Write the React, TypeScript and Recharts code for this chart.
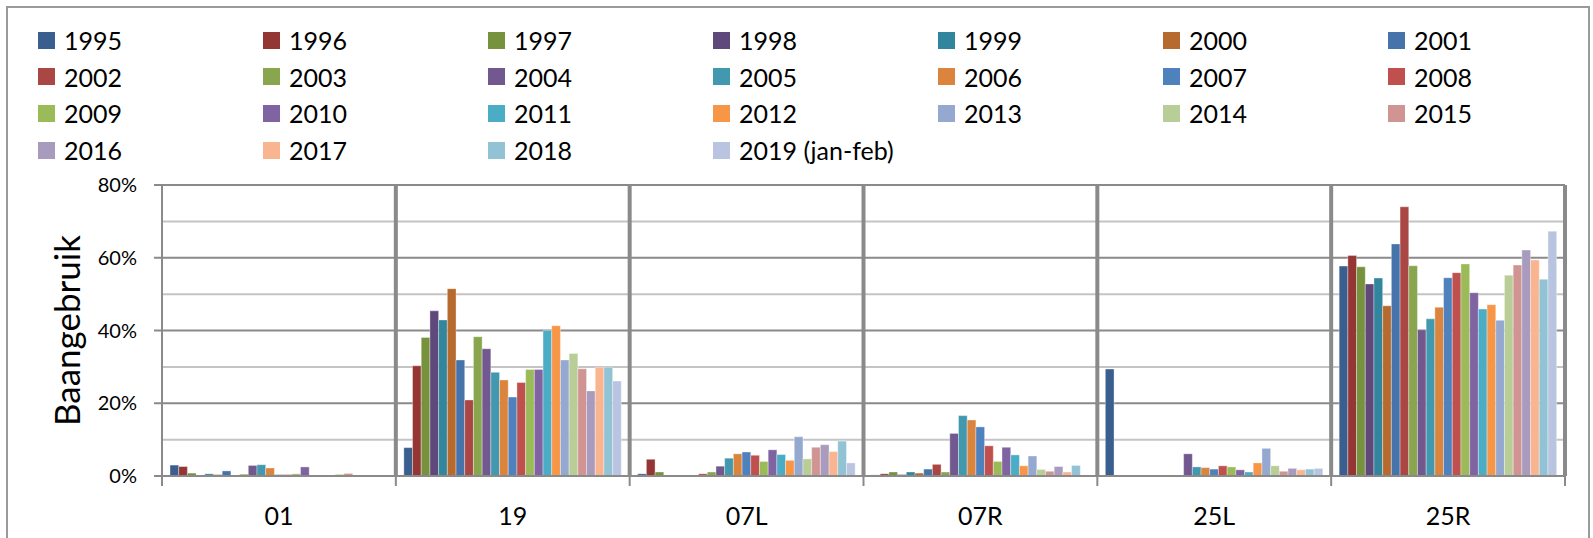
import React from 'react'
import { BarChart, Bar, XAxis, YAxis, CartesianGrid } from 'recharts'

const runways = ['01', '19', '07L', '07R', '25L', '25R']

const years = [
  '1995', '1996', '1997', '1998', '1999', '2000', '2001',
  '2002', '2003', '2004', '2005', '2006', '2007', '2008',
  '2009', '2010', '2011', '2012', '2013', '2014', '2015',
  '2016', '2017', '2018', '2019 (jan-feb)',
]

const colors = [
  '#3A5F8F', '#943634', '#76923C', '#5F497A', '#31859C', '#B76A2E', '#4674AA',
  '#AA4643', '#89A54E', '#71588F', '#4198AF', '#DB843D', '#4F81BD', '#C0504D',
  '#9BBB59', '#8064A2', '#4BACC6', '#F79646', '#95A9D0', '#B9CD96', '#D09493',
  '#A99BBD', '#F9B590', '#92C3D4', '#B9C5E0',
]

// runway use in %, one value per year (1995 .. 2019)
const use01 = [3.0, 2.6, 0.8, 0.2, 0.6, 0.4, 1.4, 0.2, 0.5, 2.9, 3.1, 2.2, 0.4, 0.4, 0.6, 2.5, 0, 0, 0.1, 0.5, 0.7, 0, 0, 0, 0]
const use19 = [7.8, 30.3, 38.1, 45.4, 42.9, 51.5, 31.9, 20.9, 38.3, 35.0, 28.5, 26.4, 21.7, 25.7, 29.3, 29.3, 40.0, 41.3, 31.9, 33.7, 29.5, 23.4, 29.9, 29.9, 26.1]
const use07L = [0.6, 4.6, 1.1, 0, 0, 0, 0, 0.6, 1.1, 2.7, 4.9, 6.1, 6.6, 5.7, 4.0, 7.2, 5.9, 4.3, 10.8, 4.7, 7.9, 8.6, 6.7, 9.6, 3.6]
const use07R = [0.3, 0.6, 1.1, 0.4, 1.1, 0.8, 1.9, 3.2, 1.1, 11.7, 16.6, 15.4, 13.5, 8.3, 4.0, 7.9, 5.8, 2.8, 5.5, 1.8, 1.3, 2.6, 1.1, 2.9, 0]
const use25L = [29.4, 0, 0, 0.2, 0, 0, 0, 0, 0, 6.1, 2.5, 2.3, 1.9, 2.8, 2.5, 1.7, 1.1, 3.6, 7.6, 2.8, 1.3, 2.1, 1.7, 1.9, 2.1]
const use25R = [57.7, 60.6, 57.5, 52.8, 54.4, 46.8, 63.8, 74.0, 57.8, 40.2, 43.2, 46.4, 54.5, 55.9, 58.3, 50.4, 45.9, 47.1, 42.8, 55.2, 58.0, 62.1, 59.4, 54.1, 67.3]

const yTicks = [0, 20, 40, 60, 80]
const majorLines = [20, 40, 60, 80]
const minorLines = [10, 30, 50, 70]

const tables = [use01, use19, use07L, use07R, use25L, use25R]

const data = runways.map((runway, ri) => {
  const row: Record<string, string | number> = { runway }
  years.forEach((_, yi) => {
    row['y' + yi] = tables[ri][yi]
  })
  return row
})

const font = 'Lato, "Liberation Sans", sans-serif'
const axisGray = '#8a8a8a'

function CategoryTick(props: any) {
  const { x, y, payload, index, visibleTicksCount } = props
  const half = payload.offset ?? 0
  return (
    <g>
      <line x1={x - half} x2={x - half} y1={y} y2={y + 10} stroke={axisGray} strokeWidth={2} />
      {index === visibleTicksCount - 1 && (
        <line x1={x + half} x2={x + half} y1={y} y2={y + 10} stroke={axisGray} strokeWidth={2} />
      )}
      <text x={x} y={y + 49} textAnchor="middle" fontSize={25} fill="#000" fontFamily={font}>
        {payload.value}
      </text>
    </g>
  )
}

function Legend() {
  return (
    <div style={{ position: 'absolute', left: 0, top: 0 }}>
      {years.map((year, i) => (
        <div
          key={year}
          style={{
            position: 'absolute',
            left: 38 + (i % 7) * 225,
            top: 28 + Math.floor(i / 7) * 36.7,
            display: 'flex',
            alignItems: 'center',
            height: 24,
            whiteSpace: 'nowrap',
          }}
        >
          <span style={{ width: 17, height: 17, background: colors[i], display: 'inline-block' }} />
          <span style={{ marginLeft: 9, fontSize: 25, fontFamily: font, color: '#000' }}>{year}</span>
        </div>
      ))}
    </div>
  )
}

export default function App() {
  return (
    <div style={{ position: 'relative', width: 1593, height: 538, background: '#fff', overflow: 'hidden' }}>
      <style>{'body { margin: 0; }'}</style>
      <div
        style={{
          position: 'absolute',
          left: 6,
          top: 6,
          width: 1584,
          height: 560,
          border: '2px solid #9a9a9a',
          boxSizing: 'border-box',
        }}
      />
      <Legend />
      <div style={{ position: 'absolute', left: 0, top: 0 }}>
        <BarChart
          width={1593}
          height={538}
          data={data}
          margin={{ top: 185, right: 28, left: 102, bottom: 22 }}
          barGap={0}
        >
          <CartesianGrid horizontalValues={minorLines} vertical={false} stroke="#c4c4c4" strokeWidth={2} />
          <CartesianGrid horizontalValues={majorLines} vertical={false} stroke={axisGray} strokeWidth={2} />
          <CartesianGrid
            horizontal={false}
            stroke={axisGray}
            strokeWidth={4}
            verticalCoordinatesGenerator={({ offset }: any) =>
              runways.map((_, i) => offset.left + ((i + 1) * offset.width) / runways.length)
            }
          />
          <XAxis
            dataKey="runway"
            height={40}
            tickLine={false}
            tickSize={0}
            tickMargin={0}
            axisLine={{ stroke: axisGray, strokeWidth: 2 }}
            tick={<CategoryTick />}
            interval={0}
          />
          <YAxis
            width={60}
            domain={[0, 80]}
            ticks={yTicks}
            tickFormatter={(v) => `${v}%`}
            tick={{ fontSize: 20, fill: '#000', fontFamily: font }}
            tickLine={{ stroke: axisGray, strokeWidth: 2 }}
            tickSize={8}
            tickMargin={17}
            axisLine={{ stroke: axisGray, strokeWidth: 2 }}
            label={{
              content: (p: any) => {
                const vb = p.viewBox
                return (
                  <text
                    transform={`translate(${vb.x - 22}, ${vb.y + vb.height / 2}) rotate(-90)`}
                    textAnchor="middle"
                    fontSize={35}
                    fontFamily={font}
                    fill="#000"
                  >
                    Baangebruik
                  </text>
                )
              },
            }}
          />
          {years.map((year, i) => (
            <Bar
              key={year}
              dataKey={'y' + i}
              name={year}
              fill={colors[i]}
              barSize={8.7}
              stroke="#ffffff"
              strokeOpacity={0.35}
              strokeWidth={1}
              isAnimationActive={false}
            />
          ))}
        </BarChart>
      </div>
    </div>
  )
}
